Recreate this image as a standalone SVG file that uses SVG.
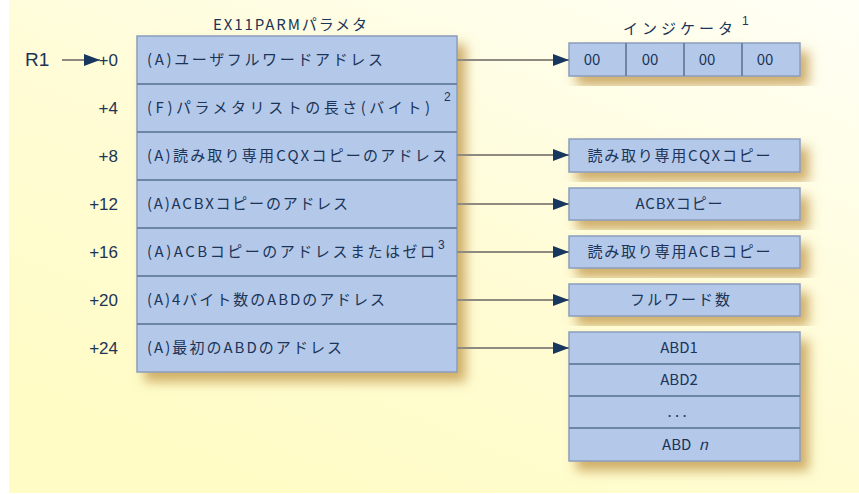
<svg xmlns="http://www.w3.org/2000/svg" width="859" height="494" viewBox="0 0 859 494">
<defs>
<linearGradient id="bg" x1="1" y1="0" x2="0.3" y2="1">
<stop offset="0" stop-color="#fffff6"/>
<stop offset="0.55" stop-color="#fffcd6"/>
<stop offset="1" stop-color="#fffcc6"/>
</linearGradient>
<filter id="sh" x="-10%" y="-10%" width="130%" height="140%">
<feDropShadow dx="8" dy="9" stdDeviation="6" flood-color="#c39a4e" flood-opacity="0.8"/>
</filter>
<marker id="ah" markerWidth="16" markerHeight="12" refX="16" refY="6" orient="auto" markerUnits="userSpaceOnUse">
<path d="M0,0 L16,6 L0,12 Z" fill="#17375e"/>
</marker>
<style>
.box{fill:#b4c9ea;stroke:#8a9dbc;stroke-width:1.5}
.div{stroke:#6d86a6;stroke-width:2}
.t{font-family:"Noto Sans CJK JP","Liberation Sans",sans-serif;font-size:15px;fill:#1b3457}
.c{text-anchor:middle}
.off{font-family:"Liberation Sans","Noto Sans CJK JP",sans-serif;font-size:17px;fill:#1b3457;text-anchor:end}
.sup{font-family:"Liberation Sans",sans-serif;font-size:12px;fill:#1b3457}
.ln{stroke:#8e8a80;stroke-width:2.2;fill:none}
</style>
</defs>
<rect x="9" y="0" width="850" height="493" fill="url(#bg)"/>

<g id="title-main"><text class="t c" x="290" y="30" textLength="154" lengthAdjust="spacing">EX11PARMパラメタ</text></g>
<g id="title-ind"><text class="t c" x="678" y="34" textLength="110" lengthAdjust="spacing">インジケータ</text><text class="sup" x="742" y="25">1</text></g>

<g id="r1"><text x="25" y="66" font-family="Liberation Sans,sans-serif" font-size="19" fill="#1b3457">R1</text></g>

<g id="offsets">
<text class="off" x="118" y="66">+0</text>
<text class="off" x="118" y="114">+4</text>
<text class="off" x="118" y="162">+8</text>
<text class="off" x="118" y="210">+12</text>
<text class="off" x="118" y="258">+16</text>
<text class="off" x="118" y="306">+20</text>
<text class="off" x="118" y="354">+24</text>
</g>

<g id="parm">
<rect class="box" x="137" y="36" width="320" height="336" filter="url(#sh)"/>
<line class="div" x1="137" y1="84" x2="457" y2="84"/>
<line class="div" x1="137" y1="132" x2="457" y2="132"/>
<line class="div" x1="137" y1="180" x2="457" y2="180"/>
<line class="div" x1="137" y1="228" x2="457" y2="228"/>
<line class="div" x1="137" y1="276" x2="457" y2="276"/>
<line class="div" x1="137" y1="324" x2="457" y2="324"/>
<text class="t" x="147" y="65" textLength="236" lengthAdjust="spacing">(A)ユーザフルワードアドレス</text>
<text class="t" x="147" y="113" textLength="283" lengthAdjust="spacing">(F)パラメタリストの長さ(バイト)</text>
<text class="sup" x="444" y="101">2</text>
<text class="t" x="147" y="161" textLength="300" lengthAdjust="spacing">(A)読み取り専用CQXコピーのアドレス</text>
<text class="t" x="147" y="209" textLength="201" lengthAdjust="spacing">(A)ACBXコピーのアドレス</text>
<text class="t" x="147" y="257" textLength="288" lengthAdjust="spacing">(A)ACBコピーのアドレスまたはゼロ</text>
<text class="sup" x="438" y="249">3</text>
<text class="t" x="147" y="305" textLength="238" lengthAdjust="spacing">(A)4バイト数のABDのアドレス</text>
<text class="t" x="147" y="353" textLength="195" lengthAdjust="spacing">(A)最初のABDのアドレス</text>
</g>

<g id="indicator">
<rect class="box" x="569" y="43" width="231" height="33" filter="url(#sh)"/>
<line class="div" x1="626" y1="43" x2="626" y2="76" stroke-width="1.5"/>
<line class="div" x1="684" y1="43" x2="684" y2="76" stroke-width="1.5"/>
<line class="div" x1="742" y1="43" x2="742" y2="76" stroke-width="1.5"/>
<text class="t c" x="592" y="65">00</text>
<text class="t c" x="650" y="65">00</text>
<text class="t c" x="707" y="65">00</text>
<text class="t c" x="765" y="65">00</text>
</g>

<g id="cqx"><rect class="box" x="569" y="139" width="231" height="33" filter="url(#sh)"/><text class="t c" x="679" y="161" textLength="183" lengthAdjust="spacing">読み取り専用CQXコピー</text></g>
<g id="acbx"><rect class="box" x="569" y="188" width="231" height="32" filter="url(#sh)"/><text class="t c" x="679" y="209" textLength="87" lengthAdjust="spacing">ACBXコピー</text></g>
<g id="acb"><rect class="box" x="569" y="236" width="231" height="32" filter="url(#sh)"/><text class="t c" x="679" y="257" textLength="183" lengthAdjust="spacing">読み取り専用ACBコピー</text></g>
<g id="fullword"><rect class="box" x="569" y="284" width="231" height="32" filter="url(#sh)"/><text class="t c" x="680" y="305" textLength="100" lengthAdjust="spacing">フルワード数</text></g>

<g id="abd">
<rect class="box" x="569" y="332" width="231" height="129" filter="url(#sh)"/>
<line class="div" x1="569" y1="364" x2="800" y2="364"/>
<line class="div" x1="569" y1="396" x2="800" y2="396"/>
<line class="div" x1="569" y1="428" x2="800" y2="428"/>
<text class="t c" x="679" y="353">ABD1</text>
<text class="t c" x="679" y="385">ABD2</text>
<text class="t c" x="677" y="417" font-size="11">. . .</text>
<text class="t c" x="685" y="450">ABD <tspan dx="4" font-style="italic">n</tspan></text>
</g>

<g id="connectors">
<line class="ln" x1="62" y1="60" x2="100" y2="60" marker-end="url(#ah)" stroke="#9a9a9a"/>
<line class="ln" x1="457" y1="60" x2="569" y2="60" marker-end="url(#ah)"/>
<line class="ln" x1="457" y1="155" x2="569" y2="155" marker-end="url(#ah)"/>
<line class="ln" x1="457" y1="204" x2="569" y2="204" marker-end="url(#ah)"/>
<line class="ln" x1="457" y1="252" x2="569" y2="252" marker-end="url(#ah)"/>
<line class="ln" x1="457" y1="300" x2="569" y2="300" marker-end="url(#ah)"/>
<line class="ln" x1="457" y1="348" x2="569" y2="348" marker-end="url(#ah)"/>
</g>
</svg>
